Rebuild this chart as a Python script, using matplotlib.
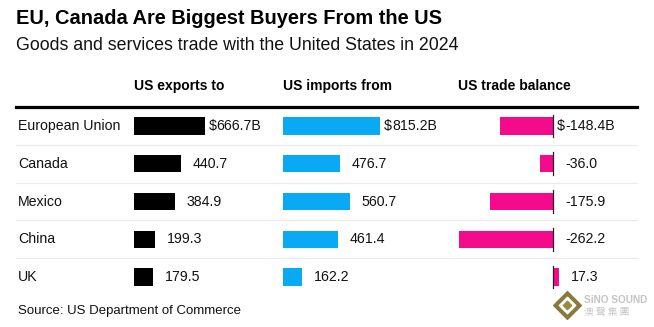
import matplotlib
matplotlib.use("Agg")
import matplotlib.pyplot as plt
from matplotlib.lines import Line2D

plt.rcParams['font.family'] = ['Liberation Sans', 'Noto Sans CJK TC', 'DejaVu Sans']

countries = ["European Union", "Canada", "Mexico", "China", "UK"]
exports = [666.7, 440.7, 384.9, 199.3, 179.5]
imports = [815.2, 476.7, 560.7, 461.4, 162.2]
balance = [-148.4, -36.0, -175.9, -262.2, 17.3]
headers = ["US exports to", "US imports from", "US trade balance"]

W, H = 654, 327
fig = plt.figure(figsize=(W / 100, H / 100), dpi=100)


def rect(x0, y0, x1, y1):
    # pixel box (top-left origin) -> figure fraction
    return [x0 / W, 1 - y1 / H, (x1 - x0) / W, (y1 - y0) / H]


def fx(x):
    return x / W


def fy(y):
    return 1 - y / H


ROW_TOP, ROW_BOT = 107, 296
n = len(countries)
ypos = list(range(n))
FS = 10.2

# background: separators, thick rule, country names
bg = fig.add_axes(rect(0, ROW_TOP, W, ROW_BOT))
bg.set_xlim(0, W)
bg.set_ylim(n - 0.5, -0.5)
bg.axis("off")
for i in range(n - 1):
    bg.plot([16, 637], [i + 0.5, i + 0.5], color="#ebebeb", lw=0.8)
for i, c in enumerate(countries):
    bg.text(18, i, c, fontsize=FS, va="center", ha="left", color="#111111")
fig.add_artist(Line2D([fx(16), fx(637)], [fy(107), fy(107)], color="black", lw=2.3))

colors = {"exp": "#000000", "imp": "#0aa9f4", "bal": "#f60a8c"}


def column(x_zero, x_left, x_right, scale, values, color, show_zero=False):
    ax = fig.add_axes(rect(x_left, ROW_TOP, x_right, ROW_BOT))
    ax.set_xlim((x_left - x_zero) / scale, (x_right - x_zero) / scale)
    ax.set_ylim(n - 0.5, -0.5)
    ax.axis("off")
    ax.barh(ypos, values, height=0.46, color=color, zorder=2)
    if show_zero:
        for i in ypos:
            ax.plot([0, 0], [i - 0.3, i + 0.3], color="#222222", lw=0.9, zorder=3)
    for i, v in enumerate(values):
        xa = max(v, 0)
        txt = f"{v:.1f}"
        if i == 0:
            ax.annotate(r"\$", (xa, i), xytext=(8.6, 0), textcoords="offset points",
                        ha="right", va="center", fontsize=FS, color="#111111")
            txt += "B"
        ax.annotate(txt, (xa, i), xytext=(8.6, 0), textcoords="offset points",
                    ha="left", va="center", fontsize=FS, color="#111111")
    return ax


column(134, 134, 280, 0.106, exports, colors["exp"])
column(283, 283, 440, 0.119, imports, colors["imp"])
column(553, 440, 640, 0.358, balance, colors["bal"], show_zero=True)

for x, h in zip([134, 283, 458], headers):
    fig.text(fx(x), fy(86), h, fontsize=10, fontweight="bold", ha="left", va="center")

fig.text(fx(16), fy(18), "EU, Canada Are Biggest Buyers From the US",
         fontsize=14.4, fontweight="bold", ha="left", va="center")
fig.text(fx(16), fy(45), "Goods and services trade with the United States in 2024",
         fontsize=12.8, ha="left", va="center", color="#111111")
fig.text(fx(18), fy(311), "Source: US Department of Commerce",
         fontsize=9.5, ha="left", va="center", color="#111111")

# watermark logo
lg = fig.add_axes(rect(550, 288, 654, 322))
lg.set_xlim(550, 654)
lg.set_ylim(322, 288)
lg.axis("off")
lg.scatter([567], [305], marker="D", s=200, color="#8a7a3a")
lg.scatter([567], [305], marker="D", s=70, color="white")
lg.scatter([567], [305], marker="D", s=18, color="#9a8a3a")
lg.text(584, 300, "SiNO SOUND", fontsize=7.2, fontweight="bold",
        color="#c4c4c4", ha="left", va="center")
lg.text(584, 312, "澳 聲 集 團", fontsize=7, color="#c8c8c8",
        ha="left", va="center", family=["Noto Sans CJK TC"])

fig.savefig("out.png", dpi=100, facecolor="white")
